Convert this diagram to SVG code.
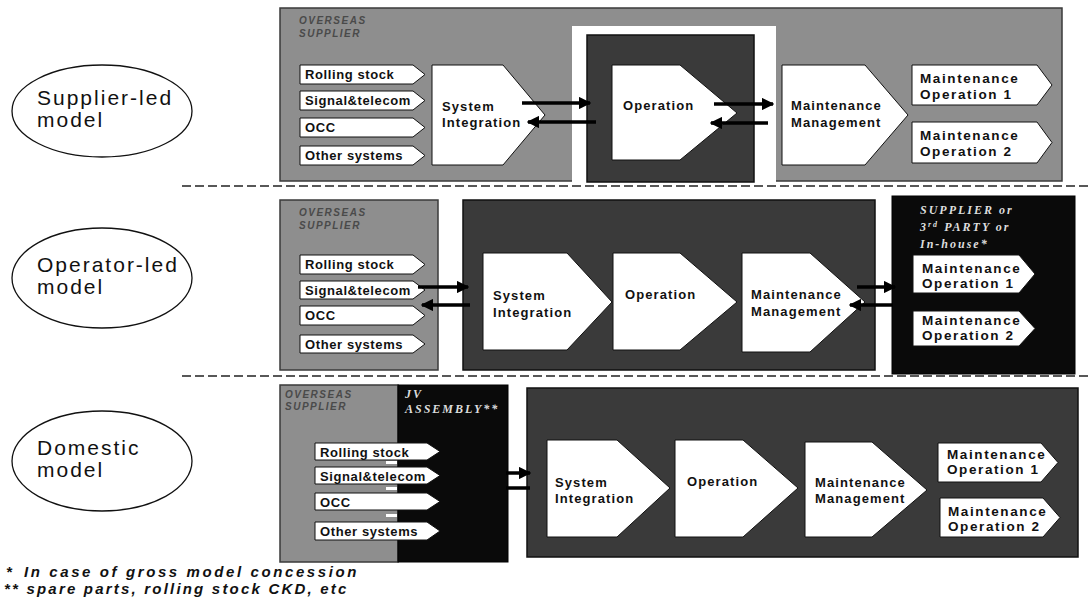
<svg xmlns="http://www.w3.org/2000/svg" width="1089" height="601" viewBox="0 0 1089 601">
<defs>
<style>
.grey{fill:#8e8e8e;stroke:#3a3a3a;stroke-width:1.5}
.dark{fill:#3a3a3a;stroke:#111;stroke-width:1.5}
.blk{fill:#0a0a0a;stroke:#000;stroke-width:1}
.shape{fill:#fff;stroke:#111;stroke-width:1}
.t{font-family:"Liberation Sans",Arial,sans-serif;font-weight:bold;font-size:13px;letter-spacing:1.1px;fill:#111}
.tm{font-family:"Liberation Sans",Arial,sans-serif;font-weight:bold;font-size:13.5px;letter-spacing:1.6px;fill:#111}
.tab{font-family:"Liberation Sans",Arial,sans-serif;font-weight:bold;font-size:13px;letter-spacing:0.6px;fill:#111}
.lab{font-family:"Liberation Sans",Arial,sans-serif;font-weight:bold;font-style:italic;font-size:10px;letter-spacing:1.5px;fill:#4a4a4a}
.wl{font-family:"Liberation Serif","Times New Roman",serif;font-weight:bold;font-style:italic;font-size:12px;letter-spacing:2px;fill:#ddd}
.ell{font-family:"Liberation Sans",Arial,sans-serif;font-size:21px;letter-spacing:2px;fill:#111}
.fn{font-family:"Liberation Sans",Arial,sans-serif;font-weight:bold;font-style:italic;font-size:15px;letter-spacing:2.2px;fill:#111}
.fn1{letter-spacing:2.6px}
.e{fill:#fff;stroke:#111;stroke-width:1.3}
.dash{stroke:#222;stroke-width:1.6;stroke-dasharray:9 4;fill:none}
.ar{stroke:#000;stroke-width:3.5;fill:none}
</style>
<marker id="ah" viewBox="0 0 10 10" refX="9" refY="5" markerWidth="3.6" markerHeight="3.6" orient="auto-start-reverse" markerUnits="strokeWidth">
<path d="M0,0 L10,5 L0,10 z" fill="#000"/>
</marker>
</defs>
<rect width="1089" height="601" fill="#fff"/>

<g id="separators">
<line class="dash" x1="182" y1="186" x2="1089" y2="186"/>
<line class="dash" x1="182" y1="376" x2="1089" y2="376"/>
</g>

<g id="supplier-led-model">
<ellipse class="e" cx="102" cy="111" rx="90" ry="46"/>
<text class="ell" x="37" y="105">Supplier-led</text>
<text class="ell" x="37" y="127">model</text>
</g>
<g id="operator-led-model">
<ellipse class="e" cx="102" cy="278" rx="90" ry="50"/>
<text class="ell" x="37" y="272">Operator-led</text>
<text class="ell" x="37" y="294">model</text>
</g>
<g id="domestic-model">
<ellipse class="e" cx="102" cy="461" rx="90" ry="50"/>
<text class="ell" x="37" y="455">Domestic</text>
<text class="ell" x="37" y="477">model</text>
</g>

<!-- ROW 1 -->
<g id="r1-supplier-box">
<rect class="grey" x="280" y="8" width="782" height="173"/>
<text class="lab" x="299" y="24">OVERSEAS</text>
<text class="lab" x="299" y="37">SUPPLIER</text>
</g>
<g id="r1-operator-frame">
<rect x="572" y="26" width="204" height="157" fill="#fff"/>
<rect class="dark" x="587" y="35" width="167" height="147"/>
</g>
<g id="r1-rolling-stock">
<polygon class="shape" points="300,65 413,65 425,74.5 413,84 300,84"/>
<text class="tab" x="305" y="79">Rolling stock</text>
</g>
<g id="r1-signal-telecom">
<polygon class="shape" points="300,91 413,91 425,100.5 413,110 300,110"/>
<text class="tab" x="305" y="105">Signal&amp;telecom</text>
</g>
<g id="r1-occ">
<polygon class="shape" points="300,118 413,118 425,127.5 413,137 300,137"/>
<text class="tab" x="305" y="132">OCC</text>
</g>
<g id="r1-other-systems">
<polygon class="shape" points="300,146 413,146 425,155.5 413,165 300,165"/>
<text class="tab" x="305" y="160">Other systems</text>
</g>
<g id="r1-system-integration">
<polygon class="shape" points="432,65 503,65 545,115 503,165 432,165"/>
<text class="t" x="442" y="111">System</text>
<text class="t" x="442" y="127">Integration</text>
</g>
<g id="r1-operation">
<polygon class="shape" points="612,65 680,65 737,113 680,160 612,160"/>
<text class="t" x="623" y="110">Operation</text>
</g>
<g id="r1-maintenance-management">
<polygon class="shape" points="782,65 865,65 908,115 865,165 782,165"/>
<text class="t" x="791" y="110">Maintenance</text>
<text class="t" x="791" y="127">Management</text>
</g>
<g id="r1-maintenance-op1">
<polygon class="shape" points="912,65 1037,65 1052,85 1037,105 912,105"/>
<text class="tm" x="920" y="83">Maintenance</text>
<text class="tm" x="920" y="99">Operation 1</text>
</g>
<g id="r1-maintenance-op2">
<polygon class="shape" points="912,122 1037,122 1052,142.5 1037,163 912,163"/>
<text class="tm" x="920" y="140">Maintenance</text>
<text class="tm" x="920" y="156">Operation 2</text>
</g>

<!-- ROW 2 -->
<g id="r2-supplier-box">
<rect class="grey" x="280" y="200" width="158" height="170"/>
<text class="lab" x="299" y="216">OVERSEAS</text>
<text class="lab" x="299" y="229">SUPPLIER</text>
</g>
<g id="r2-rolling-stock">
<polygon class="shape" points="300,255 413,255 425,264.5 413,274 300,274"/>
<text class="tab" x="305" y="269">Rolling stock</text>
</g>
<g id="r2-signal-telecom">
<polygon class="shape" points="300,281 413,281 425,290 413,299 300,299"/>
<text class="tab" x="305" y="295">Signal&amp;telecom</text>
</g>
<g id="r2-occ">
<polygon class="shape" points="300,306 413,306 425,315.5 413,325 300,325"/>
<text class="tab" x="305" y="320">OCC</text>
</g>
<g id="r2-other-systems">
<polygon class="shape" points="300,335 413,335 425,344 413,353 300,353"/>
<text class="tab" x="305" y="349">Other systems</text>
</g>
<g id="r2-operator-box">
<rect class="dark" x="463" y="200" width="412" height="170"/>
</g>
<g id="r2-system-integration">
<polygon class="shape" points="483,253 567,253 612,302 567,350 483,350"/>
<text class="t" x="493" y="300">System</text>
<text class="t" x="493" y="317">Integration</text>
</g>
<g id="r2-operation">
<polygon class="shape" points="613,253 680,253 737,302 680,350 613,350"/>
<text class="t" x="625" y="299">Operation</text>
</g>
<g id="r2-maintenance-management">
<polygon class="shape" points="742,253 810,253 865,302 810,352 742,352"/>
<text class="t" x="751" y="299">Maintenance</text>
<text class="t" x="751" y="316">Management</text>
</g>
<g id="r2-maintenance-provider">
<rect class="blk" x="892" y="196" width="183" height="178"/>
<text class="wl" x="920" y="214">SUPPLIER or</text>
<text class="wl" x="920" y="231">3<tspan font-size="8" dy="-4">rd</tspan><tspan dy="4"> PARTY or</tspan></text>
<text class="wl" x="920" y="248">In-house*</text>
</g>
<g id="r2-maintenance-op1">
<polygon class="shape" points="913,255 1019,255 1035,274 1019,293 913,293"/>
<text class="tm" x="922" y="273">Maintenance</text>
<text class="tm" x="922" y="288">Operation 1</text>
</g>
<g id="r2-maintenance-op2">
<polygon class="shape" points="913,311 1019,311 1035,328.5 1019,346 913,346"/>
<text class="tm" x="922" y="325">Maintenance</text>
<text class="tm" x="922" y="340">Operation 2</text>
</g>

<!-- ROW 3 -->
<g id="r3-supplier-box">
<rect class="grey" x="280" y="385" width="118" height="177"/>
<text class="lab" x="285" y="398">OVERSEAS</text>
<text class="lab" x="285" y="410">SUPPLIER</text>
</g>
<g id="r3-jv-assembly">
<rect class="blk" x="398" y="385" width="110" height="177"/>
<text class="wl" x="405" y="398" font-size="11">JV</text>
<text class="wl" x="405" y="413" font-size="11">ASSEMBLY**</text>
</g>
<g id="r3-rolling-stock">
<polygon class="shape" points="315,443 427,443 440,451.5 427,460 315,460"/>
<rect x="386" y="461" width="11" height="3" fill="#fff"/>
<text class="tab" x="320" y="457">Rolling stock</text>
</g>
<g id="r3-signal-telecom">
<polygon class="shape" points="315,467 427,467 440,475.5 427,484 315,484"/>
<rect x="386" y="487" width="11" height="3" fill="#fff"/>
<text class="tab" x="320" y="481">Signal&amp;telecom</text>
</g>
<g id="r3-occ">
<polygon class="shape" points="315,493 427,493 440,501.5 427,510 315,510"/>
<rect x="386" y="514" width="11" height="3" fill="#fff"/>
<text class="tab" x="320" y="507">OCC</text>
</g>
<g id="r3-other-systems">
<polygon class="shape" points="315,522 427,522 440,531 427,540 315,540"/>
<text class="tab" x="320" y="536">Other systems</text>
</g>
<g id="r3-domestic-box">
<rect class="dark" x="527" y="388" width="551" height="169"/>
</g>
<g id="r3-system-integration">
<polygon class="shape" points="547,440 617,440 670,488 617,537 547,537"/>
<text class="t" x="555" y="487">System</text>
<text class="t" x="555" y="503">Integration</text>
</g>
<g id="r3-operation">
<polygon class="shape" points="675,440 743,440 798,488 743,537 675,537"/>
<text class="t" x="687" y="486">Operation</text>
</g>
<g id="r3-maintenance-management">
<polygon class="shape" points="805,442 872,442 927,490 872,537 805,537"/>
<text class="t" x="815" y="487">Maintenance</text>
<text class="t" x="815" y="503">Management</text>
</g>
<g id="r3-maintenance-op1">
<polygon class="shape" points="938,443 1041,443 1058,462.5 1041,482 938,482"/>
<text class="tm" x="947" y="459">Maintenance</text>
<text class="tm" x="947" y="474">Operation 1</text>
</g>
<g id="r3-maintenance-op2">
<polygon class="shape" points="940,498 1043,498 1060,517.5 1043,537 940,537"/>
<text class="tm" x="948" y="516">Maintenance</text>
<text class="tm" x="948" y="531">Operation 2</text>
</g>

<g id="connectors">
<line class="ar" x1="522" y1="103" x2="590" y2="103" marker-end="url(#ah)"/>
<line class="ar" x1="596" y1="122" x2="528" y2="122" marker-end="url(#ah)"/>
<line class="ar" x1="714" y1="104" x2="773" y2="104" marker-end="url(#ah)"/>
<line class="ar" x1="768" y1="123" x2="711" y2="123" marker-end="url(#ah)"/>
<line class="ar" x1="418" y1="287" x2="468" y2="287" marker-end="url(#ah)"/>
<line class="ar" x1="470" y1="305" x2="422" y2="305" marker-end="url(#ah)"/>
<line class="ar" x1="857" y1="287" x2="895" y2="287" marker-end="url(#ah)"/>
<line class="ar" x1="893" y1="305" x2="850" y2="305" marker-end="url(#ah)"/>
<line class="ar" x1="506" y1="473" x2="530" y2="473" marker-end="url(#ah)"/>
<line class="ar" x1="506" y1="488" x2="530" y2="488"/>
</g>

<g id="footnotes">
<text class="fn" x="6" y="577">*</text>
<text class="fn fn1" x="24" y="577">In case of gross model concession</text>
<text class="fn" x="4" y="594">** spare parts, rolling stock CKD, etc</text>
</g>
</svg>
